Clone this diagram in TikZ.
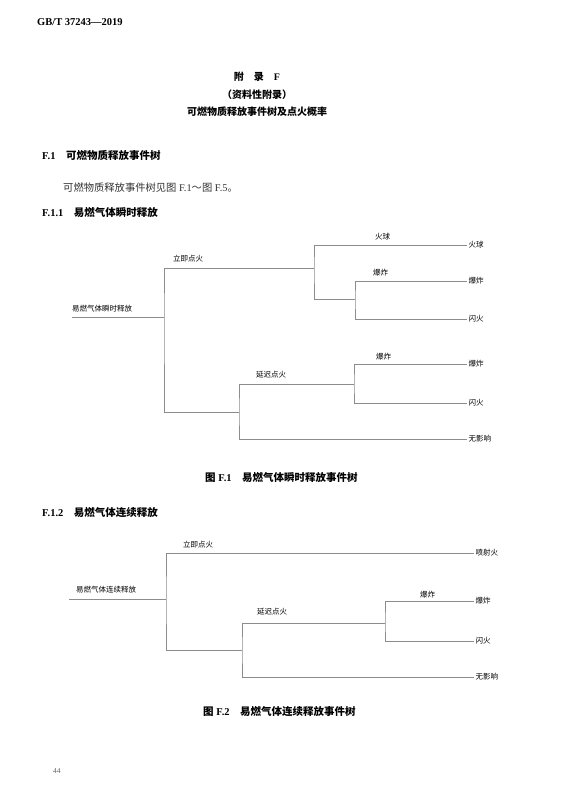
\documentclass[tikz,border=0pt]{standalone}
\usepackage{fontspec}
\setmainfont{Liberation Serif}
\newfontfamily\cjk{Noto Sans CJK SC}
\usetikzlibrary{positioning}

\begin{document}
\begin{tikzpicture}[x=1pt, y=-1pt,
        branch/.style={draw=black!45, line width=0.8pt},
        outcome/.style={anchor=west, inner sep=1.5pt, font=\cjk\fontsize{7.5}{8}\selectfont},
        event/.style={anchor=west, inner sep=0pt, font=\cjk\fontsize{7.5}{8}\selectfont},
        heading/.style={anchor=west, inner sep=0pt, font=\bfseries\fontsize{10.5}{12}\selectfont},
        title/.style={inner sep=0pt, font=\bfseries\fontsize{10}{12}\selectfont}
    ]
    \useasboundingbox (0,0) rectangle (581,799);

    % Page head
    \node[heading] (std) at (37,22) {GB/T 37243—2019};
    \node[title] (annex) at (257,77) {{\cjk 附\quad 录}\quad F};
    \node[title] (kind) at (257,95) {\cjk （资料性附录）};
    \node[title] (annextitle) at (257,112) {\cjk 可燃物质释放事件树及点火概率};

    \node[heading] (sec1) at (42,155) {F.1\quad{\cjk 可燃物质释放事件树}};
    \node[anchor=west, inner sep=0pt, text=black!80, font=\fontsize{10.3}{12}\selectfont] (body) at (63,188)
        {{\cjk 可燃物质释放事件树见图} F.1{\cjk ～图} F.5{\cjk 。}};
    \node[heading] (sec11) at (42,213) {F.1.1\quad{\cjk 易燃气体瞬时释放}};

    % Tree F.1
    \coordinate (t1root) at (72,317);
    \coordinate (t1a) at (164,317);
    \coordinate (t1now) at (314,268);
    \coordinate (t1c) at (355,299);
    \coordinate (t1late) at (239,412);
    \coordinate (t1e) at (354,384);

    \node[outcome] (o1) at (467,245) {火球};
    \node[outcome] (o2) at (467,281) {爆炸};
    \node[outcome] (o3) at (467,319) {闪火};
    \node[outcome] (o4) at (467,364) {爆炸};
    \node[outcome] (o5) at (467,403) {闪火};
    \node[outcome] (o6) at (467,439) {无影响};

    \draw[branch] (t1root) -- (t1a);
    \draw[branch] (t1now) -| (t1a) |- (t1late);
    \draw[branch] (o1.west) -| (t1now) |- (t1c);
    \draw[branch] (o2.west) -| (t1c) |- (o3.west);
    \draw[branch] (t1e) -| (t1late) |- (o6.west);
    \draw[branch] (o4.west) -| (t1e) |- (o5.west);

    \node[event] (t1rootlbl) at (72,309) {易燃气体瞬时释放};
    \node[event] (t1nowlbl) at (173,259) {立即点火};
    \node[event] (t1balllbl) at (375,237) {火球};
    \node[event] (t1explbl) at (373,273) {爆炸};
    \node[event] (t1latelbl) at (256,375) {延迟点火};
    \node[event] (t1exp2lbl) at (376,357) {爆炸};

    \node[heading] (fig1) at (205,478) {{\cjk 图} F.1\quad{\cjk 易燃气体瞬时释放事件树}};

    \node[heading] (sec12) at (42,513) {F.1.2\quad{\cjk 易燃气体连续释放}};

    % Tree F.2
    \coordinate (t2root) at (69,599);
    \coordinate (t2a) at (166,599);
    \coordinate (t2late) at (242,650);
    \coordinate (t2e) at (385,623);

    \node[outcome] (p1) at (474,553) {喷射火};
    \node[outcome] (p2) at (474,601) {爆炸};
    \node[outcome] (p3) at (474,641) {闪火};
    \node[outcome] (p4) at (474,677) {无影响};

    \draw[branch] (t2root) -- (t2a);
    \draw[branch] (p1.west) -| (t2a) |- (t2late);
    \draw[branch] (t2e) -| (t2late) |- (p4.west);
    \draw[branch] (p2.west) -| (t2e) |- (p3.west);

    \node[event] (t2rootlbl) at (76,590) {易燃气体连续释放};
    \node[event] (t2nowlbl) at (183,545) {立即点火};
    \node[event] (t2latelbl) at (257,612) {延迟点火};
    \node[event] (t2explbl) at (420,595) {爆炸};

    \node[heading] (fig2) at (203,712) {{\cjk 图} F.2\quad{\cjk 易燃气体连续释放事件树}};

    \node[anchor=west, inner sep=0pt, text=black!60, font=\fontsize{7.5}{9}\selectfont] (page) at (53,771) {44};
\end{tikzpicture}
\end{document}
